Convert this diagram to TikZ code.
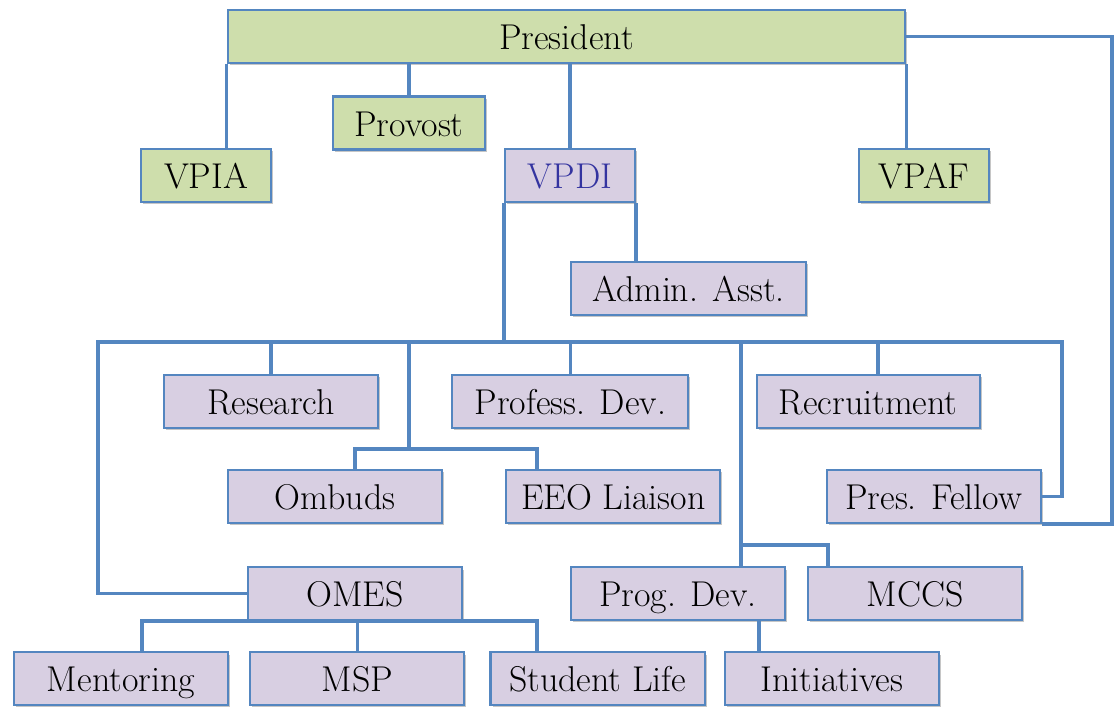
\documentclass[tikz,border=0pt]{standalone}
\usepackage{fontspec}
\usetikzlibrary{positioning,shadows}

\definecolor{chiefgreen}{RGB}{206,222,172}
\definecolor{unitlilac}{RGB}{216,207,226}
\definecolor{linkblue}{RGB}{84,134,192}
\definecolor{vpdiblue}{RGB}{52,52,160}

\tikzset{
  office/.style={draw=linkblue, line width=1.6pt, fill=unitlilac,
    minimum width=5.35cm, minimum height=1.32cm, inner sep=0pt,
    text height=21pt, text depth=2pt,
    font=\fontsize{25.5}{30}\selectfont,
    drop shadow={shadow xshift=0.05cm, shadow yshift=-0.06cm, opacity=0.45}},
  chief/.style={office, fill=chiefgreen},
  link/.style={draw=linkblue, line width=2.4pt}
}

\begin{document}
\begin{tikzpicture}[x=0.025cm, y=-0.025cm]
 \useasboundingbox (0,0) rectangle (1115,709);

 \node[chief, minimum width=16.925cm] (pres) at (566.5,36.5) {President};
 \node[chief, minimum width=3.8cm] (provost) at (409,123) {Provost};
 \node[chief, minimum width=3.25cm] (vpia) at (206,175.5) {VPIA};
 \node[office, minimum width=3.25cm, text=vpdiblue] (vpdi) at (570,175.5) {VPDI};
 \node[chief, minimum width=3.25cm] (vpaf) at (924,175.5) {VPAF};
 \node[office, minimum width=5.875cm] (admin) at (688.5,288.5) {Admin. Asst.};
 \node[office] (research) at (271,401.5) {Research};
 \node[office, minimum width=5.9cm, right=1.8cm of research] (profdev) {Profess. Dev.};
 \node[office, minimum width=5.575cm, right=1.65cm of profdev] (recruit) {Recruitment};
 \node[office] (ombuds) at (335,496.5) {Ombuds};
 \node[office, right=1.55cm of ombuds] (eeo) {EEO Liaison};
 \node[office, right=2.6cm of eeo] (fellow) {Pres. Fellow};
 \node[office] (omes) at (355,593.5) {OMES};
 \node[office] (progdev) at (678,593.5) {Prog. Dev.};
 \node[office, right=0.525cm of progdev] (mccs) {MCCS};
 \node[office] (mentoring) at (121,678.5) {Mentoring};
 \node[office, right=0.5cm of mentoring] (msp) {MSP};
 \node[office, right=0.6cm of msp] (studlife) {Student Life};
 \node[office, right=0.45cm of studlife] (init) {Initiatives};

 % junctions of the connector lines
 \coordinate (rim) at (1112,36.5);
 \coordinate (busL) at (98,342);
 \coordinate (busR) at (1062,342);
 \coordinate (recJ) at ([xshift=0.25cm]recruit.north);
 \coordinate (ombJ) at (409,449);
 \coordinate (ombA) at (355,449);
 \coordinate (ombB) at (537,449);
 \coordinate (pdJ) at (741,545);
 \coordinate (pdB) at (828,545);
 \coordinate (omesL) at (142,621);
 \coordinate (omesR) at (537,621);
 \coordinate (initJ) at (759,621);

 \draw[link] (pres.south west) -- (pres.south west |- vpia.north);
 \draw[link] (pres.south -| provost.north) -- (provost.north);
 \draw[link] (pres.south -| vpdi.north) -- (vpdi.north);
 \draw[link] (pres.south east) -- (pres.south east |- vpaf.north);
 \draw[link] (pres.east) -- (rim) -- (rim |- fellow.south) -- (fellow.south east);
 \draw[link] (vpdi.south east) -- (vpdi.south east |- admin.north);
 \draw[link] (vpdi.south west) -- (vpdi.south west |- busL);
 \draw[link] (omes.west) -- (omes.west -| busL) -- (busL) -- (busR)
   -- (busR |- fellow.east) -- (fellow.east);
 \draw[link] (research.north |- busL) -- (research.north);
 \draw[link] (profdev.north |- busL) -- (profdev.north);
 \draw[link] (recJ |- busL) -- (recJ);
 \draw[link] (ombJ |- busL) -- (ombJ);
 \draw[link] (ombA |- ombuds.north) -- (ombA) -- (ombB) -- (ombB |- eeo.north);
 \draw[link] (pdJ |- busL) -- (pdJ |- progdev.north);
 \draw[link] (pdJ) -- (pdB) -- (pdB |- mccs.north);
 \draw[link] (omes.south) -- (omes.south |- omesL);
 \draw[link] (omesL |- mentoring.north) -- (omesL) -- (omesR) -- (omesR |- studlife.north);
 \draw[link] (msp.north) -- (msp.north |- omesL);
 \draw[link] (initJ |- progdev.south) -- (initJ |- init.north);
\end{tikzpicture}
\end{document}
